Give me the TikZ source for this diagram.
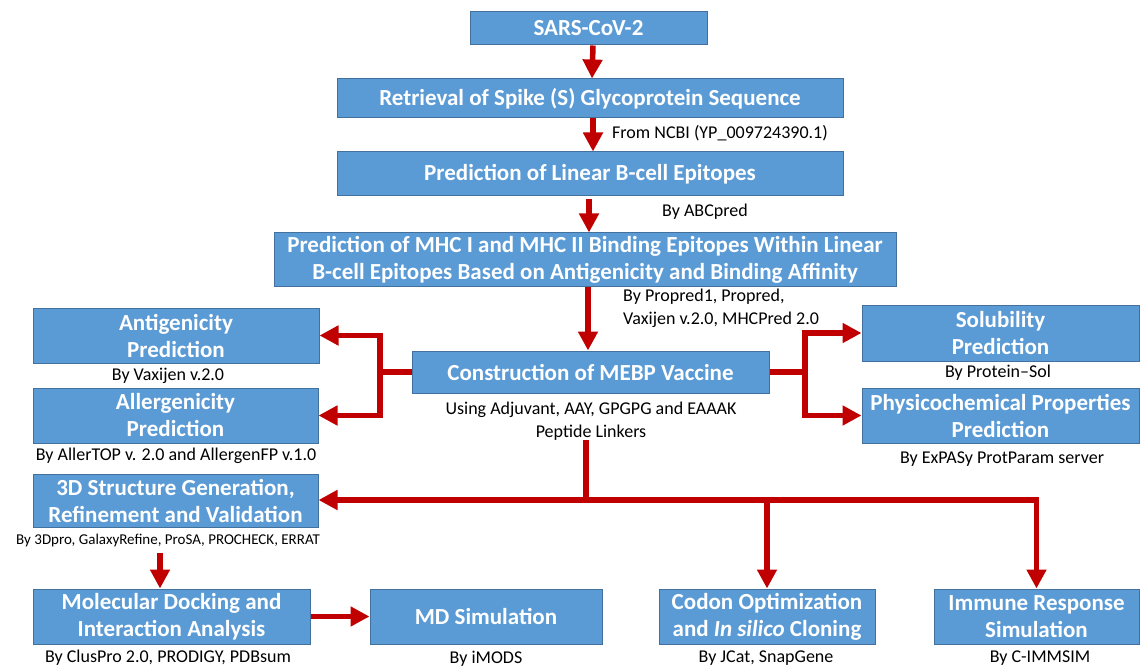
\documentclass[tikz,border=0pt]{standalone}
\usepackage{fontspec}
\setmainfont{Carlito}
\usetikzlibrary{arrows.meta}
\definecolor{boxblue}{HTML}{5B9BD5}
\definecolor{boxedge}{HTML}{41719C}
\definecolor{arrred}{HTML}{C00000}
\tikzset{
  box/.style={draw=boxedge, line width=1pt, fill=boxblue, text=white, inner sep=0pt,
    align=center, font=\fontsize{23}{27}\selectfont\bfseries},
  lab/.style={inner sep=0pt, align=center, text=black, font=\fontsize{18}{22.5}\selectfont},
  smalllab/.style={inner sep=0pt, align=center, text=black, font=\fontsize{15}{18}\selectfont},
  redline/.style={draw=arrred, line width=5.5pt},
  arr/.style={redline, -{Triangle[width=19pt,length=19pt]}},
}
\begin{document}
\begin{tikzpicture}[x=1pt,y=-1pt]
\useasboundingbox (0,0) rectangle (1140,668);
% boxes
\node[box, minimum width=237pt, minimum height=33pt] (sars) at (588.5,28.5) {SARS-CoV-2};
\node[box, minimum width=506pt, minimum height=39pt] (retr) at (590,98.5) {Retrieval of Spike (S) Glycoprotein Sequence};
\node[box, minimum width=506pt, minimum height=44pt] (lin) at (590,174) {Prediction of Linear B-cell Epitopes};
\node[box, minimum width=622pt, minimum height=54pt] (mhc) at (585,260) {Prediction of MHC I and MHC II Binding Epitopes Within Linear\\B-cell Epitopes Based on Antigenicity and Binding Affinity};
\node[box, minimum width=357pt, minimum height=42pt] (cons) at (590.5,372) {Construction of MEBP Vaccine};
\node[box, minimum width=286pt, minimum height=55pt] (anti) at (176,335.5) {Antigenicity\\Prediction};
\node[box, minimum width=285pt, minimum height=55pt] (alle) at (175.5,415.5) {Allergenicity\\Prediction};
\node[box, minimum width=277pt, minimum height=56pt] (solu) at (1000.5,333) {Solubility\\Prediction};
\node[box, minimum width=277pt, minimum height=55pt] (phys) at (1000.5,415.5) {Physicochemical Properties\\Prediction};
\node[box, minimum width=285pt, minimum height=53pt] (d3) at (175.5,500.5) {3D Structure Generation,\\Refinement and Validation};
\node[box, minimum width=277pt, minimum height=55pt] (mol) at (171.5,616.5) {Molecular Docking and\\Interaction Analysis};
\node[box, minimum width=232pt, minimum height=55pt] (md) at (486,616.5) {MD Simulation};
\node[box, minimum width=216pt, minimum height=55pt] (codon) at (767,616.5) {Codon Optimization\\and \textit{In silico} Cloning};
\node[box, minimum width=205pt, minimum height=55pt] (immune) at (1036.5,616.5) {Immune Response\\Simulation};
% labels
\node[lab, anchor=west] (ncbi) at (612,133) {From NCBI (YP\_009724390.1)};
\node[lab] (abc) at (705,212) {By ABCpred};
\node[lab, anchor=west, align=left] (prop) at (623,308.5) {By Propred1, Propred,\\Vaxijen v.2.0, MHCPred 2.0};
\node[lab] (vaxlab) at (168,376) {By Vaxijen v.2.0};
\node[lab] (allelab) at (176,456) {By AllerTOP v. 2.0 and AllergenFP v.1.0};
\node[lab] (conslab) at (591,421) {Using Adjuvant, AAY, GPGPG and EAAAK\\Peptide Linkers};
\node[lab] (sollab) at (998,373) {By Protein--Sol};
\node[lab] (physlab) at (1002,459) {By ExPASy ProtParam server};
\node[smalllab] (d3lab) at (168,540) {By 3Dpro, GalaxyRefine, ProSA, PROCHECK, ERRAT};
\node[lab] (mollab) at (168,658) {By ClusPro 2.0, PRODIGY, PDBsum};
\node[lab] (mdlab) at (486,659) {By iMODS};
\node[lab] (codlab) at (766,658) {By JCat, SnapGene};
\node[lab] (immlab) at (1040,658) {By C-IMMSIM};
% junction coordinates
\coordinate (lj) at (380,372);
\coordinate (rj) at (805,372);
\coordinate (hub) at (586,500);
% connectors
\draw[arr] ([xshift=4.5pt]sars.south) -- ([xshift=2pt]retr.north);
\draw[arr] ([xshift=3pt]retr.south) -- ([xshift=3pt]lin.north);
\draw[arr] ([xshift=-1pt,yshift=-3pt]lin.south) -- ([xshift=4pt]mhc.north);
\draw[arr] ([xshift=3pt]mhc.south) -- ([xshift=-2.5pt]cons.north);
\draw[arr] (cons.west) -- (lj) |- (anti.east);
\draw[arr] (lj) |- (alle.east);
\draw[arr] (cons.east) -- (rj) |- (solu.west);
\draw[arr] (rj) |- (phys.west);
\draw[redline] (conslab.south -| hub) -- (hub);
\draw[arr] (hub) -- (hub -| d3.east);
\draw[arr] (hub) -- (hub -| immune.north) -- (immune.north);
\draw[arr] (hub -| codon.north) -- (codon.north);
\draw[arr] ([yshift=-6pt]d3lab.south -| 160,0) -- (mol.north -| 160,0);
\draw[arr] (mol.east) -- (md.west);
\end{tikzpicture}
\end{document}
